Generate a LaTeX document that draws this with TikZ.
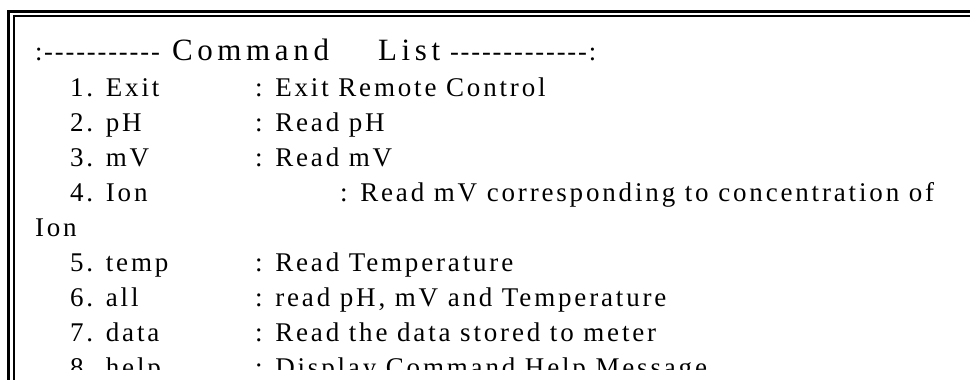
\documentclass[tikz,border=0pt]{standalone}
\usepackage{fontspec}
\newfontfamily\bodyfont{Liberation Serif}[LetterSpace=10.5]
\newfontfamily\titlefont{Liberation Serif}[LetterSpace=15]
\newfontfamily\dashfont{Liberation Serif}[LetterSpace=7]
\tikzset{
  txt/.style={anchor=base west, inner sep=0pt, outer sep=0pt, font=\bodyfont\fontsize{27}{35}\selectfont},
  ttl/.style={anchor=base west, inner sep=0pt, outer sep=0pt, font=\titlefont\fontsize{31}{35}\selectfont},
  dsh/.style={anchor=base west, inner sep=0pt, outer sep=0pt, font=\dashfont\fontsize{26.5}{35}\selectfont},
  outerline/.style={line width=3pt, black},
  innerline/.style={line width=2pt, black}
}
\begin{document}
\begin{tikzpicture}[x=1pt,y=1pt]
\useasboundingbox (0,0) rectangle (970,380);
\begin{scope}
\clip (0,0) rectangle (970,380);
% double frame (continues beyond right and bottom edges)
\coordinate (o1) at (8.5,-10);
\coordinate (o2) at (8.5,368.5);
\coordinate (o3) at (990,368.5);
\coordinate (i1) at (13.5,-10);
\coordinate (i2) at (13.5,363.5);
\coordinate (i3) at (990,363.5);
\draw[outerline] (o1) -- (o2) -- (o3);
\draw[innerline] (i1) -- (i2) -- (i3);
\end{scope}
\begin{scope}
\clip (0,10) rectangle (970,380);
% title row
\node[dsh] (t1) at (35,319) {:-----------};
\node[ttl] (t2) at (172,319) {Command};
\node[ttl] (t3) at (378,319) {List};
\node[dsh] (t4) at (450,319) {-------------:};
% rows
\node[txt] (n1) at (70,283) {1. Exit};
\node[txt] (d1) at (255,283) {: Exit Remote Control};
\node[txt] (n2) at (70,248) {2. pH};
\node[txt] (d2) at (255,248) {: Read pH};
\node[txt] (n3) at (70,213) {3. mV};
\node[txt] (d3) at (255,213) {: Read mV};
\node[txt] (n4) at (70,178) {4. Ion};
\node[txt] (d4) at (340,178) {: Read mV corresponding to concentration of};
\node[txt] (d4b) at (35,143) {Ion};
\node[txt] (n5) at (70,108) {5. temp};
\node[txt] (d5) at (255,108) {: Read Temperature};
\node[txt] (n6) at (70,73) {6. all};
\node[txt] (d6) at (255,73) {: read pH, mV and Temperature};
\node[txt] (n7) at (70,38) {7. data};
\node[txt] (d7) at (255,38) {: Read the data stored to meter};
\node[txt] (n8) at (70,3) {8. help};
\node[txt] (d8) at (255,3) {: Display Command Help Message};
\end{scope}
\end{tikzpicture}
\end{document}
